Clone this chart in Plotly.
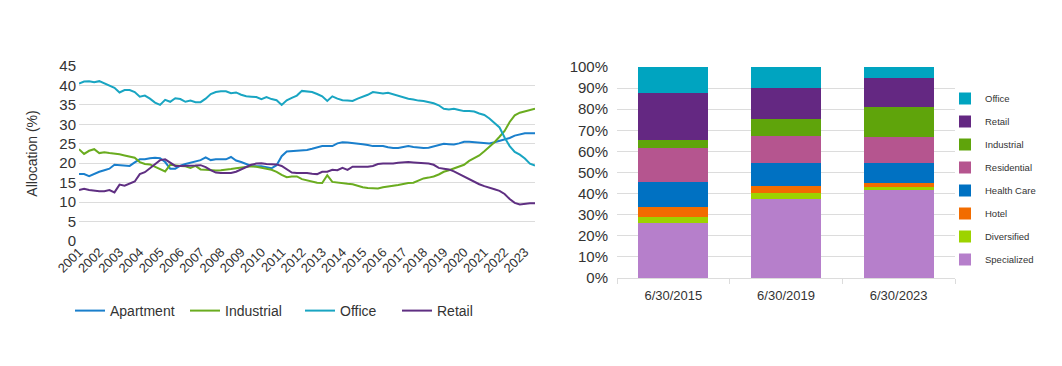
import plotly.graph_objects as go

# ---------------- Left chart data (quarterly, 2001 Q1 .. 2023 Q3) ----------------
quarters = [2001 + i / 4 for i in range(91)]
year_ticks = list(range(2001, 2024))

apartment = [17.2, 17.2, 16.7, 17.3, 17.8, 18.2, 18.6, 19.6, 19.5, 19.4, 19.3, 20.2, 21.0, 21.0, 21.3, 21.4,
             21.3, 20.3, 18.6, 18.6, 19.4, 19.8, 20.1, 20.4, 20.8, 21.5, 20.8, 21.0, 21.0, 21.0, 21.6, 20.7,
             20.3, 19.9, 19.3, 19.2, 19.2, 19.0, 18.7, 19.5, 21.8, 23.0, 23.1, 23.1, 23.2, 23.4, 23.7, 24.0,
             24.4, 24.4, 24.4, 25.1, 25.4, 25.3, 25.2, 25.0, 24.9, 24.7, 24.4, 24.4, 24.4, 24.1, 23.9, 23.9,
             24.1, 24.4, 24.2, 24.0, 23.9, 24.0, 24.3, 24.7, 25.0, 24.9, 24.8, 25.1, 25.5, 25.5, 25.4, 25.4,
             25.2, 25.1, 25.4, 25.8, 26.1, 26.5, 27.1, 27.4, 27.7, 27.7, 27.7]
industrial = [23.6, 22.4, 23.2, 23.6, 22.6, 22.8, 22.6, 22.5, 22.3, 22.0, 21.7, 21.4, 20.3, 19.8, 19.7, 19.1,
              18.5, 17.9, 19.6, 19.4, 19.3, 19.2, 18.8, 19.3, 18.4, 18.3, 18.2, 18.1, 18.2, 18.3, 18.5, 18.7,
              18.9, 19.0, 19.2, 19.1, 18.9, 18.6, 18.3, 17.8, 17.0, 16.4, 16.6, 16.6, 15.9, 15.6, 15.2, 15.0,
              14.9, 16.9, 15.2, 15.0, 14.9, 14.7, 14.6, 14.2, 13.8, 13.6, 13.5, 13.5, 13.8, 14.1, 14.2, 14.4,
              14.7, 14.9, 15.0, 15.5, 16.1, 16.3, 16.6, 17.1, 17.8, 18.2, 18.7, 19.1, 19.6, 20.6, 21.3, 22.0,
              23.1, 24.2, 25.4, 26.8, 28.3, 30.6, 32.3, 33.0, 33.3, 33.7, 34.0]
office = [40.5, 41.0, 41.1, 40.8, 41.1, 40.5, 40.1, 39.4, 38.2, 38.8, 38.8, 38.3, 37.1, 37.4, 36.6, 35.6,
          35.0, 36.3, 35.8, 36.7, 36.5, 35.8, 36.1, 35.7, 35.7, 36.6, 37.8, 38.3, 38.5, 38.5, 38.0, 38.2,
          37.6, 37.2, 37.1, 37.0, 36.5, 37.0, 36.5, 36.2, 35.0, 36.2, 36.8, 37.4, 38.6, 38.5, 38.3, 37.8,
          37.2, 36.0, 37.2, 36.6, 36.2, 36.1, 36.0, 36.6, 37.0, 37.6, 38.3, 38.1, 37.9, 38.1, 37.7, 37.4,
          36.9, 36.6, 36.4, 36.1, 36.0, 35.7, 35.4, 34.9, 34.0, 33.8, 34.0, 33.7, 33.4, 33.4, 33.3, 32.8,
          32.4, 31.5, 30.4, 29.2, 26.6, 24.4, 22.9, 22.2, 21.2, 19.9, 19.4]
retail = [13.1, 13.4, 13.1, 12.9, 12.8, 12.8, 13.1, 12.5, 14.5, 14.2, 14.8, 15.3, 17.2, 17.7, 18.7, 19.8,
          20.8, 21.0, 20.2, 19.3, 19.3, 19.3, 19.3, 19.4, 19.5, 19.0, 18.2, 17.6, 17.5, 17.5, 17.5, 17.8,
          18.4, 19.1, 19.6, 19.9, 20.0, 19.8, 19.7, 19.7, 19.3, 18.4, 17.6, 17.5, 17.5, 17.5, 17.3, 17.2,
          17.8, 17.8, 18.3, 18.2, 18.8, 18.3, 19.1, 19.1, 19.0, 19.1, 19.3, 19.8, 19.9, 19.9, 19.9, 20.1,
          20.2, 20.3, 20.2, 20.1, 20.0, 19.9, 19.6, 18.8, 18.6, 18.4, 17.9, 17.2, 16.6, 16.0, 15.3, 14.6,
          14.1, 13.6, 13.3, 12.9, 12.1, 10.8, 9.8, 9.4, 9.6, 9.7, 9.7]

line_names = ["Apartment", "Industrial", "Office", "Retail"]
line_colors = ["#1a7fcc", "#6aac1f", "#19a5c2", "#5f2f82"]

# ---------------- Right chart data ----------------
dates = ["6/30/2015", "6/30/2019", "6/30/2023"]
bar_names = ["Specialized", "Diversified", "Hotel", "Health Care", "Residential", "Industrial", "Retail", "Office"]
bar_values = {
    "Specialized": [26.0, 37.6, 41.7],
    "Diversified": [3.0, 2.9, 1.4],
    "Hotel": [4.7, 3.1, 1.9],
    "Health Care": [12.0, 10.9, 9.3],
    "Residential": [16.0, 12.9, 12.6],
    "Industrial": [3.8, 8.0, 14.0],
    "Retail": [22.2, 14.8, 14.1],
    "Office": [12.3, 9.8, 5.0],
}
bar_colors = {
    "Specialized": "#b67fcb",
    "Diversified": "#9dd300",
    "Hotel": "#f26c00",
    "Health Care": "#0071c2",
    "Residential": "#b5558f",
    "Industrial": "#5fa40b",
    "Retail": "#642882",
    "Office": "#00a4c0",
}

# page body margin offsets the figure by 8px
OFF = 8
W, H = 1062 - OFF, 366 - OFF


def fx(px):
    return (px - OFF) / W


def fy(py):
    return 1 - (py - OFF) / H


fig = go.Figure()

for name, vals, col in zip(line_names, [apartment, industrial, office, retail], line_colors):
    fig.add_trace(go.Scatter(x=quarters, y=vals, mode="lines", name=name,
                             line=dict(color=col, width=2), xaxis="x", yaxis="y",
                             legend="legend3" if name == "Retail" else "legend"))

n = len(bar_names)
for i, name in enumerate(bar_names):
    fig.add_trace(go.Bar(x=dates, y=bar_values[name], name=name, marker_color=bar_colors[name],
                         marker_line_width=0, xaxis="x2", yaxis="y2", legend="legend2",
                         legendgroup=name, legendrank=n - i))

grid = "#dcdcdc"
txt = "#333333"
fig.update_layout(
    width=W, height=H,
    margin=dict(l=0, r=0, t=0, b=0, autoexpand=False),
    paper_bgcolor="white", plot_bgcolor="white",
    font=dict(family="Liberation Sans, Arial, sans-serif", color=txt),
    barmode="stack", bargap=0.38,
    xaxis=dict(domain=[fx(79), fx(535)], range=[2001, 2023.5], tickvals=year_ticks,
               ticktext=[str(y) for y in year_ticks], tickangle=-45, showgrid=False,
               zeroline=False, showline=False, tickfont=dict(size=13, color=txt), ticks="",
               automargin=False),
    yaxis=dict(domain=[fy(241), fy(66)], range=[0, 45], dtick=5, gridcolor=grid,
               zeroline=False, showline=False, tickfont=dict(size=15, color=txt), automargin=False,
               ticklabelstandoff=2,
               title=dict(text="Allocation (%)", font=dict(size=14, color=txt), standoff=18)),
    xaxis2=dict(domain=[fx(617), fx(955)], anchor="y2", showgrid=False, showline=True,
                linecolor=grid, ticks="outside", tickson="boundaries", ticklen=5, tickcolor=grid,
                tickfont=dict(size=13, color=txt), automargin=False, ticklabelstandoff=5),
    yaxis2=dict(domain=[fy(278), fy(67)], anchor="x2", range=[0, 100], dtick=10,
                ticksuffix="%", gridcolor=grid, zeroline=False, showline=False,
                tickfont=dict(size=15, color=txt), automargin=False, ticklabelstandoff=8),
    legend=dict(orientation="h", x=fx(70), xanchor="left", y=fy(311), yanchor="middle",
                font=dict(size=14, color=txt), entrywidth=70, entrywidthmode="pixels",
                bgcolor="rgba(0,0,0,0)"),
    legend3=dict(orientation="h", x=fx(397), xanchor="left", y=fy(311), yanchor="middle",
                 font=dict(size=14, color=txt), bgcolor="rgba(0,0,0,0)"),
    legend2=dict(orientation="v", x=fx(945), xanchor="left", y=fy(84), yanchor="top",
                 font=dict(size=9.5, color=txt), traceorder="grouped", tracegroupgap=4,
                 itemwidth=30, bgcolor="rgba(0,0,0,0)"),
)

fig.write_html("out.html")
